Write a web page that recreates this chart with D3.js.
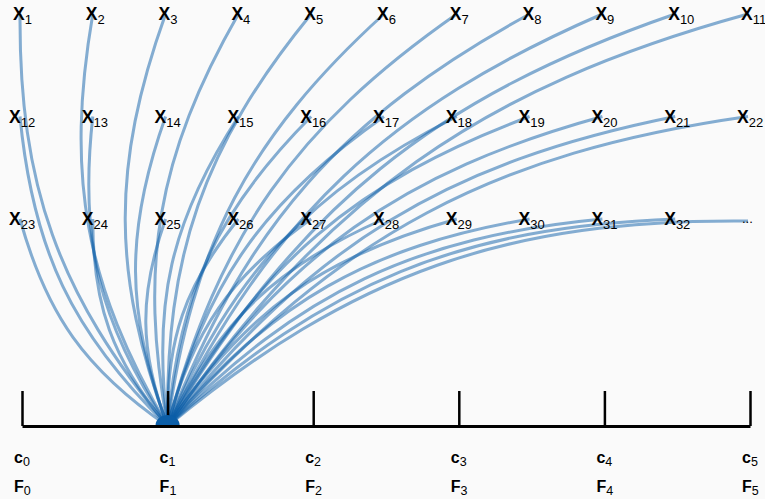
<!DOCTYPE html>
<html>
<head>
<meta charset="utf-8">
<script src="https://cdn.jsdelivr.net/npm/d3@7"></script>
<style>
  html, body { margin: 0; padding: 0; background: #fafafa; }
  svg { display: block; }
  text { font-family: "Liberation Sans", Arial, sans-serif; fill: #000; }
</style>
</head>
<body>
<svg width="765" height="499"></svg>
<script>
// node rows (subscripts of X), last entry of bottom row is the ellipsis
var row1 = ['1', '2', '3', '4', '5', '6', '7', '8', '9', '10', '11'];
var row2 = ['12', '13', '14', '15', '16', '17', '18', '19', '20', '21', '22'];
var row3 = ['23', '24', '25', '26', '27', '28', '29', '30', '31', '32', '...'];
var rows = [row1, row2, row3];

// bottom axis categories
var cIndex = ['0', '1', '2', '3', '4', '5'];
var source = '1'; // every link starts at c1

var width = 765, height = 499;
var axisY = 426;
var bend = 20 * Math.PI / 180;

var svg = d3.select('svg');
svg.append('rect').attr('width', width).attr('height', height).attr('fill', '#fafafa');

var xCol = d3.scalePoint().domain(d3.range(11)).range([19, 747]);
var yRow = d3.scalePoint().domain(d3.range(3)).range([20, 225]);
var xC = d3.scalePoint().domain(cIndex).range([22, 750]);

// flatten nodes
var nodes = [];
rows.forEach(function(r, ri){
  r.forEach(function(lab, ci){
    nodes.push({ label: lab, row: ri, col: ci });
  });
});

// tikz-like "bend left" curve between two points
function bendPath(sx, sy, tx, ty){
  var dx = tx - sx, dy = sy - ty;           // math coords (y up)
  var L = Math.sqrt(dx * dx + dy * dy);
  var a = Math.atan2(dy, dx);
  var d = 0.3915 * L;
  var c1x = sx + d * Math.cos(a + bend), c1y = sy - d * Math.sin(a + bend);
  var c2x = tx - d * Math.cos(a - bend), c2y = ty + d * Math.sin(a - bend);
  return 'M' + sx + ',' + sy + 'C' + c1x + ',' + c1y + ' ' + c2x + ',' + c2y + ' ' + tx + ',' + ty;
}

var sx = xC(source), sy = axisY;

svg.append('g').selectAll('path')
  .data(nodes)
  .enter()
  .append('path')
  .attr('d', function(n){
    var tx = xCol(n.col) + 1;
    var ty = yRow(n.row) - (n.label === '...' ? 4 : 6);
    return bendPath(sx, sy, tx, ty);
  })
  .attr('fill', 'none')
  .attr('stroke', '#0b5ea8')
  .attr('stroke-opacity', 0.5)
  .attr('stroke-width', 3);

// axis
var axis = d3.axisTop(xC).tickSize(35).tickSizeOuter(0).tickFormat('');
var gAxis = svg.append('g').attr('transform', 'translate(0,' + axisY + ')').call(axis);
gAxis.attr('font-family', null);
gAxis.select('.domain').attr('stroke', '#000').attr('stroke-width', 3);
gAxis.selectAll('.tick line').attr('stroke', '#000').attr('stroke-width', 2.5);

// blob where links meet
svg.append('path')
  .attr('transform', 'translate(' + sx + ',' + (axisY - 1) + ')')
  .attr('d', 'M-12,0A12,10 0 0 1 12,0Z')
  .attr('fill', '#0b5ea8');

// node labels
var lab = svg.append('g').selectAll('text')
  .data(nodes)
  .enter()
  .append('text')
  .attr('x', function(n){
    if (n.label === '...') return xCol(n.col) - 5;
    return xCol(n.col) - (n.row === 0 ? 6 : 10);
  })
  .attr('y', function(n){ return yRow(n.row) - (n.label === '...' ? 2 : 0); });

lab.filter(function(n){ return n.label === '...'; })
  .style('font-size', '13px')
  .text('...');

var xs = lab.filter(function(n){ return n.label !== '...'; });
xs.append('tspan')
  .style('font-size', '17.5px')
  .style('font-weight', 'bold')
  .text('X');
xs.append('tspan')
  .attr('dy', 4)
  .style('font-size', '13px')
  .text(function(n){ return n.label; });

// c and F labels
['c', 'F'].forEach(function(letter, i){
  var t = svg.append('g').selectAll('text')
    .data(cIndex)
    .enter()
    .append('text')
    .attr('x', function(d){ return xC(d) - 8; })
    .attr('y', i === 0 ? 463 : 492);
  t.append('tspan')
    .style('font-size', '16px')
    .style('font-weight', 'bold')
    .text(letter);
  t.append('tspan')
    .attr('dy', 3)
    .style('font-size', '12.5px')
    .text(function(d){ return d; });
});
</script>
</body>
</html>
